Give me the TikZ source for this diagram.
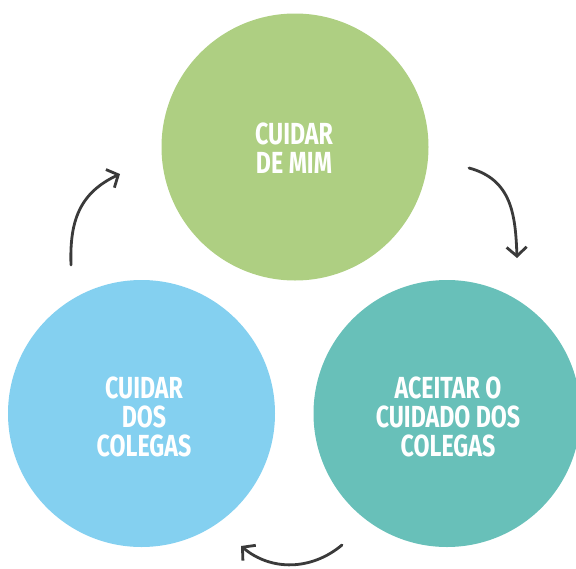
\documentclass[tikz,border=0pt]{standalone}
\usepackage{fontspec}
\setmainfont{Fira Sans}[FakeStretch=0.76]
\usetikzlibrary{arrows.meta}
\definecolor{cgreen}{RGB}{174,207,130}
\definecolor{cblue}{RGB}{132,208,240}
\definecolor{cteal}{RGB}{104,192,185}
\definecolor{carrow}{RGB}{58,58,58}
\tikzset{
  blob/.style={circle, minimum size=267pt, inner sep=0pt, text=white,
    font=\fontsize{30.5}{29}\selectfont\bfseries, align=center},
  cyc/.style={draw=carrow, line width=2.8pt, line cap=round,
    -{Straight Barb[length=9pt,width=20pt,line width=2.8pt]}}
}
\begin{document}
\begin{tikzpicture}[x=1pt,y=-1pt]
\useasboundingbox (0,0) rectangle (576,568);
\clip (0,0) rectangle (576,568);
\node[blob, fill=cgreen] (g) at (295,147) {};
\node[blob, fill=cblue] (b) at (141.5,413.5) {};
\node[blob, fill=cteal] (t) at (447,413.5) {};
\node[blob, minimum size=0pt] (gt) at (294,148) {CUIDAR\\DE MIM};
\node[blob, minimum size=0pt] (bt) at (144,417) {CUIDAR\\DOS\\COLEGAS};
\node[blob, minimum size=0pt] (tt) at (448,417) {ACEITAR O\\CUIDADO DOS\\COLEGAS};
\coordinate (r1) at (469,168);
\coordinate (r2) at (517,258);
\coordinate (b1) at (342,545);
\coordinate (b2) at (241,546);
\coordinate (l1) at (71,265);
\coordinate (l2) at (120,174);
\draw[cyc] (r1) to[out=-15,in=92,looseness=1.1] (r2);
\draw[cyc] (b1) to[out=220,in=-40] (b2);
\draw[cyc] (l1) to[out=92,in=205,looseness=1.1] (l2);
\end{tikzpicture}
\end{document}
